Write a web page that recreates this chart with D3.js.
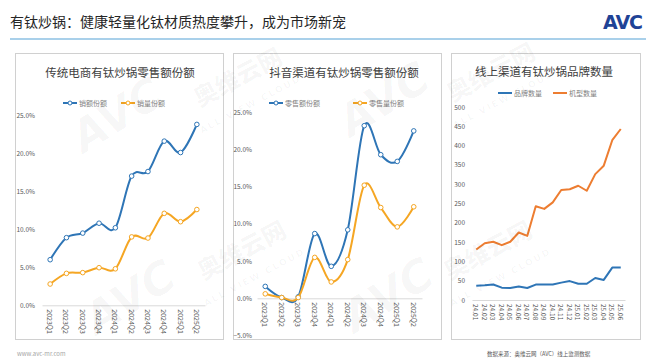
<!DOCTYPE html>
<html><head><meta charset="utf-8">
<script src="https://cdn.jsdelivr.net/npm/d3@7"></script>
<style>body{margin:0;background:#fff}svg{display:block}</style>
</head><body><svg id="c" width="646" height="361"></svg>
<script>
// ---- data ----
const quarters = ["2023Q1","2023Q2","2023Q3","2023Q4","2024Q1","2024Q2","2024Q3","2024Q4","2025Q1","2025Q2"];
const tradValueShare  = [6.0, 8.9, 9.5, 10.8, 10.2, 17.0, 17.6, 21.6, 20.1, 23.8];
const tradVolumeShare = [2.8, 4.2, 4.3, 4.95, 4.8, 9.0, 8.85, 12.1, 11.0, 12.6];
const dyValueShare    = [1.6, 0.1, 0.2, 8.7, 4.3, 9.2, 23.2, 19.3, 18.4, 22.5];
const dyVolumeShare   = [0.6, 0.1, 0.1, 5.5, 2.2, 5.2, 15.2, 12.2, 9.6, 12.3];
const months = ["24.01","24.02","24.03","24.04","24.05","24.06","24.07","24.08","24.09","24.10","24.11","24.12","25.01","25.02","25.03","25.04","25.05","25.06"];
const brandCount = [37,38,40,32,31,35,31,40,40,40,45,49,42,42,57,52,84,84];
const modelCount = [131,147,151,142,151,175,166,243,236,253,285,287,296,283,326,348,414,443];
const pctTicks1 = [0,5,10,15,20,25];
const pctTicks2 = [-5,0,5,10,15,20,25];
const cntTicks = [0,50,100,150,200,250,300,350,400,450,500];

const FONT = "'Noto Sans CJK SC','Noto Sans',sans-serif";
const BLUE = "#2e75b6", GOLD = "#f5a623", ORANGE = "#ed7d31";
const svg = d3.select("#c");

// header
svg.append("text").attr("x",10).attr("y",27).attr("font-family",FONT).attr("font-size",14)
  .attr("fill","#262626").text("有钛炒锅：健康轻量化钛材质热度攀升，成为市场新宠");
svg.append("rect").attr("x",10).attr("y",38).attr("width",636).attr("height",2).attr("fill","#a9d0ea");
svg.append("text").attr("x",603).attr("y",29).attr("font-family","'DejaVu Sans',sans-serif")
  .attr("font-size",19).attr("font-weight",900).attr("fill","#1f4396").attr("letter-spacing",-1).text("AVC");

function panel(o){
  const g = svg.append("g");
  g.append("rect").attr("x",o.box[0]+0.5).attr("y",o.box[1]+0.5).attr("width",o.box[2]-o.box[0])
    .attr("height",o.box[3]-o.box[1]).attr("fill","#fff").attr("stroke","#d0d0d0");
  g.append("text").attr("x",o.titleX).attr("y",o.titleY).attr("text-anchor","middle")
    .attr("dominant-baseline","central").attr("font-family",FONT).attr("font-size",11.5)
    .attr("fill","#404040").text(o.title);
  const x = d3.scaleBand().domain(o.cats).range(o.xRange);
  const y = d3.scaleLinear().domain(o.yDomain).range(o.yRange);
  const ya = g.append("g").attr("transform",`translate(${o.yLabelX},0)`)
    .call(d3.axisLeft(y).tickValues(o.ticks).tickSize(0).tickPadding(0).tickFormat(o.fmt));
  ya.select(".domain").remove();
  ya.selectAll("text").attr("font-family",FONT).attr("font-size",6.5).attr("fill","#595959");
  const xa = g.append("g").attr("transform",`translate(0,${y(0)})`)
    .call(d3.axisBottom(x).tickSize(0));
  xa.select(".domain").attr("stroke","#d9d9d9");
  xa.selectAll("text").attr("y",0).attr("dy",null).attr("x",o.labelOff)
    .attr("transform","rotate(90)").attr("text-anchor","start").attr("dominant-baseline","central")
    .attr("font-family",FONT).attr("font-size",o.labelSize).attr("fill","#595959");
  const cx = d => x(d)+x.bandwidth()/2;
  o.series.forEach(s=>{
    const line = d3.line().x((v,i)=>cx(o.cats[i])).y(v=>y(v));
    if(o.smooth) line.curve(d3.curveCardinal.tension(0));
    g.append("path").datum(s.values).attr("d",line).attr("fill","none")
      .attr("stroke",s.color).attr("stroke-width",2).attr("stroke-linejoin","round");
    if(o.markers){
      g.selectAll(null).data(s.values).enter().append("circle")
        .attr("cx",(v,i)=>cx(o.cats[i])).attr("cy",v=>y(v)).attr("r",2.3)
        .attr("fill","#fff").attr("stroke",s.color).attr("stroke-width",1);
    }
    const lg = g.append("g").attr("transform",`translate(${s.lx},${o.legendY})`);
    lg.append("line").attr("x1",0).attr("x2",14).attr("stroke",s.color).attr("stroke-width",2);
    if(o.markers) lg.append("circle").attr("cx",7).attr("r",2).attr("fill","#fff").attr("stroke",s.color);
    lg.append("text").attr("x",16).attr("dominant-baseline","central").attr("font-family",FONT)
      .attr("font-size",7).attr("fill","#7f7f7f").text(s.name);
  });
}
const pct = d=>d3.format(".1f")(d)+"%";
panel({box:[15,53,223,339],title:"传统电商有钛炒锅零售额份额",titleX:120,titleY:72,legendY:103,
  cats:quarters,xRange:[42,205],yDomain:[0,25],yRange:[305.3,115.3],ticks:pctTicks1,fmt:pct,
  yLabelX:35,labelOff:4,labelSize:7,smooth:true,markers:true,
  series:[{name:"销额份额",values:tradValueShare,color:BLUE,lx:63},
          {name:"销量份额",values:tradVolumeShare,color:GOLD,lx:121}]});
panel({box:[233,53,441,339],title:"抖音渠道有钛炒锅零售额份额",titleX:344,titleY:72,legendY:103,
  cats:quarters,xRange:[257,422],yDomain:[-5,25],yRange:[335.5,112.3],ticks:pctTicks2,fmt:pct,
  yLabelX:252,labelOff:4,labelSize:7,smooth:true,markers:true,
  series:[{name:"零售额份额",values:dyValueShare,color:BLUE,lx:269},
          {name:"零售量份额",values:dyVolumeShare,color:GOLD,lx:353}]});
panel({box:[451,53,640,339],title:"线上渠道有钛炒锅品牌数量",titleX:544,titleY:71,legendY:93,
  cats:months,xRange:[472,625],yDomain:[0,500],yRange:[300,107],ticks:cntTicks,fmt:d3.format("d"),
  yLabelX:465,labelOff:4,labelSize:6.5,smooth:false,markers:false,
  series:[{name:"品牌数量",values:brandCount,color:BLUE,lx:498},
          {name:"机型数量",values:modelCount,color:ORANGE,lx:553}]});

// watermarks (faint)
const wm = svg.append("g").attr("fill","#000").attr("fill-opacity",0.035).attr("font-weight",900);
[[125,128],[138,310],[392,112],[396,308]].forEach(p=>{
  wm.append("text").attr("transform",`translate(${p[0]},${p[1]}) rotate(-32)`).attr("text-anchor","middle")
    .attr("font-family","'DejaVu Sans',sans-serif").attr("font-size",44).attr("font-style","italic").text("AVC");
});
[[242,85],[246,258],[495,80],[492,258]].forEach(p=>{
  wm.append("text").attr("transform",`translate(${p[0]},${p[1]}) rotate(-28)`).attr("text-anchor","middle")
    .attr("font-family",FONT).attr("font-size",24).text("奥维云网");
  wm.append("text").attr("transform",`translate(${p[0]+10},${p[1]+22}) rotate(-28)`).attr("text-anchor","middle")
    .attr("font-family","'DejaVu Sans',sans-serif").attr("font-size",9).attr("letter-spacing",2).text("ALL VIEW CLOUD");
});

// footer
svg.append("text").attr("x",17).attr("y",356).attr("font-family",FONT).attr("font-size",6)
  .attr("fill","#a6a6a6").text("www.avc-mr.com");
svg.append("text").attr("x",487).attr("y",356).attr("font-family",FONT).attr("font-size",5.5)
  .attr("fill","#595959").text("数据来源：奥维云网（AVC）线上监测数据");
</script></body></html>
